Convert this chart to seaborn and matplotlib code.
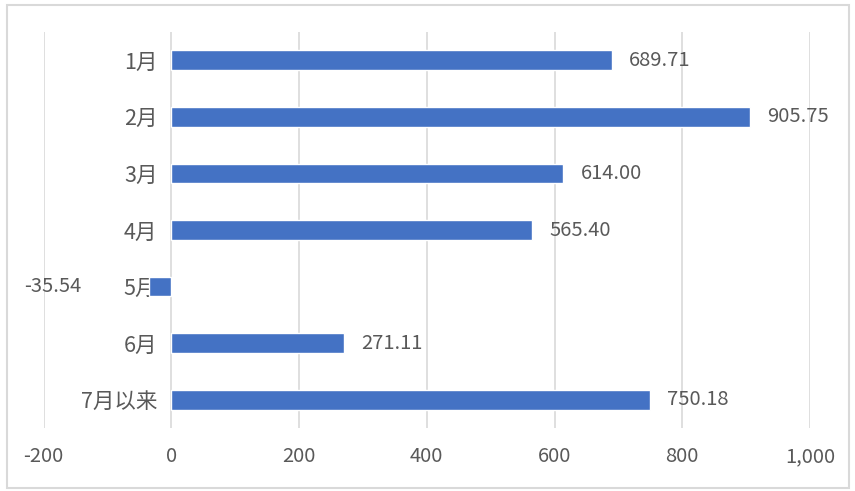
import numpy as np
import pandas as pd
import matplotlib
matplotlib.use("Agg")
import matplotlib.pyplot as plt
import seaborn as sns
from matplotlib.patches import Rectangle
from matplotlib.transforms import offset_copy

months = ["1月", "2月", "3月", "4月", "5月", "6月", "7月以来"]
values = [689.71, 905.75, 614.00, 565.40, -35.54, 271.11, 750.18]
xticks = [-200, 0, 200, 400, 600, 800, 1000]
xtick_labels = ["-200", "0", "200", "400", "600", "800", "1,000"]

sns.set_style("white")
plt.rcParams['font.family'] = ['Noto Sans CJK SC', 'DejaVu Sans']

df = pd.DataFrame({"month": months, "value": values})

W, H = 855, 491
fig = plt.figure(figsize=(W / 100, H / 100), dpi=100)
ax = fig.add_axes([43.5 / W, (H - 428) / H, (810 - 43.5) / W, (428 - 32) / H])

sns.barplot(data=df, x="value", y="month", orient="h", color="#4472C4",
            width=0.35, saturation=1, ax=ax)

ax.set_xlim(-200, 1000)
ax.set_ylim(6.5, -0.5)
ax.set_xticks(xticks)
ax.set_xticklabels(xtick_labels)
ax.xaxis.grid(True, color="#d9d9d9", lw=1.2)
ax.set_axisbelow(True)
for s in ax.spines.values():
    s.set_visible(False)
ax.spines['left'].set_position(('data', 0))
ax.tick_params(axis='both', length=0, colors="#595959")
ax.tick_params(axis='y', pad=10, labelsize=15.5)
ax.tick_params(axis='x', pad=13, labelsize=14.5)
ax.set_xlabel("")
ax.set_ylabel("")

# data labels
for i, v in enumerate(values):
    if v >= 0:
        tr = offset_copy(ax.transData, fig=fig, x=17, y=0, units='dots')
        ax.text(v, i, f"{v:.2f}", transform=tr, ha='left', va='center',
                fontsize=14.5, color="#595959")
    else:
        tr = offset_copy(ax.transData, fig=fig, x=-67, y=0, units='dots')
        ax.text(v, i, f"{v:.2f}", transform=tr, ha='right', va='center',
                fontsize=14.5, color="#595959")

# outer chart border
fig.patches.append(Rectangle((7 / W, 3 / H), (849 - 7) / W, (486 - 3) / H,
                             transform=fig.transFigure, fill=False,
                             edgecolor="#d9d9d9", lw=1.5))

fig.savefig("out.png", dpi=100)
